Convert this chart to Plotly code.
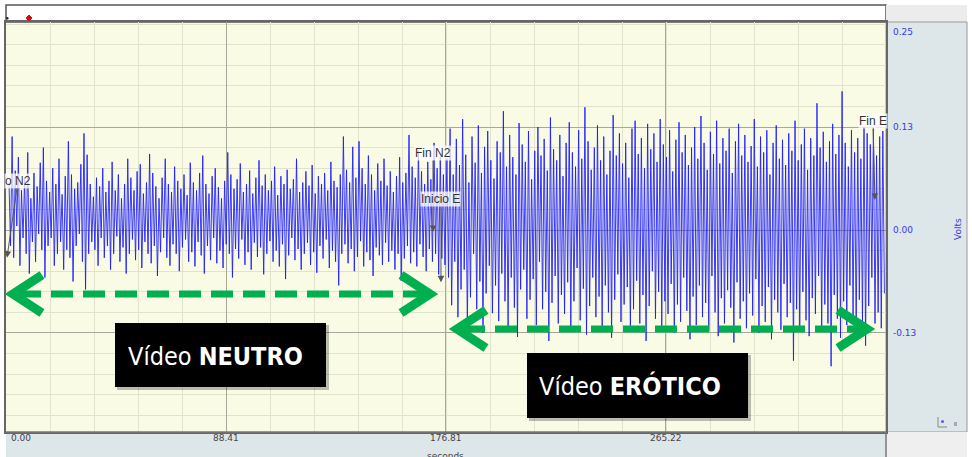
import numpy as np
import plotly.graph_objects as go

# ---------------- data (Volts) ----------------
neutral_peaks = [
    0.060, 0.118, 0.075, 0.092, 0.050, 0.065, 0.098, 0.040, 0.072, 0.055,
    0.085, 0.104, 0.062, 0.048, 0.078, 0.058, 0.090, 0.045, 0.068, 0.112,
    0.070, 0.052, 0.060, 0.083, 0.122, 0.095, 0.058, 0.042, 0.066, 0.055,
    0.078, 0.048, 0.062, 0.086, 0.050, 0.070, 0.040, 0.058, 0.090, 0.066,
    0.050, 0.074, 0.083, 0.046, 0.060, 0.096, 0.072, 0.055, 0.040, 0.066,
    0.090, 0.058, 0.048, 0.080, 0.062, 0.052, 0.070, 0.044, 0.085, 0.060,
    0.050, 0.072, 0.094, 0.058, 0.046, 0.068, 0.078, 0.054, 0.040, 0.062,
    0.098, 0.070, 0.052, 0.064, 0.084, 0.048, 0.058, 0.075, 0.046, 0.066,
    0.088, 0.056, 0.070, 0.050, 0.062, 0.080, 0.044, 0.068, 0.058, 0.076,
    0.052, 0.064, 0.090, 0.048, 0.060, 0.074, 0.056, 0.082, 0.046, 0.068,
    0.058, 0.072, 0.050, 0.086, 0.062, 0.054, 0.070, 0.118, 0.076, 0.060,
    0.105, 0.066, 0.112, 0.078, 0.058, 0.094, 0.070, 0.050, 0.084, 0.062,
    0.090, 0.056, 0.074, 0.048, 0.068, 0.092, 0.060, 0.072, 0.120, 0.080,
    0.066, 0.100, 0.074, 0.058, 0.086, 0.064, 0.110, 0.078, 0.092, 0.070,
]
neutral_troughs = [
    -0.020, -0.035, 0.005, -0.045, -0.010, -0.030, -0.055, -0.015, -0.040, -0.005,
    -0.025, -0.060, -0.020, -0.010, -0.045, -0.030, -0.015, -0.050, -0.025, -0.035,
    -0.065, -0.020, -0.005, -0.040, -0.075, -0.030, -0.015, -0.025, -0.045, -0.010,
    -0.035, -0.020, -0.050, -0.030, -0.008, -0.040, -0.022, -0.055, -0.030, -0.012,
    -0.038, -0.025, -0.048, -0.015, -0.030, -0.042, -0.020, -0.058, -0.028, -0.010,
    -0.035, -0.045, -0.018, -0.030, -0.052, -0.022, -0.012, -0.040, -0.028, -0.046,
    -0.015, -0.032, -0.055, -0.020, -0.038, -0.010, -0.042, -0.026, -0.048, -0.018,
    -0.030, -0.060, -0.024, -0.036, -0.012, -0.044, -0.028, -0.050, -0.016, -0.034,
    -0.022, -0.056, -0.030, -0.014, -0.040, -0.026, -0.046, -0.018, -0.062, -0.032,
    -0.010, -0.038, -0.024, -0.050, -0.030, -0.016, -0.044, -0.028, -0.054, -0.020,
    -0.036, -0.012, -0.048, -0.026, -0.040, -0.070, -0.030, -0.018, -0.042, -0.024,
    -0.052, -0.034, -0.014, -0.046, -0.028, -0.038, -0.058, -0.022, -0.032, -0.044,
    -0.016, -0.040, -0.026, -0.050, -0.030, -0.064, -0.036, -0.020, -0.042, -0.028,
    -0.046, -0.018, -0.034, -0.052, -0.024, -0.040, -0.030, -0.056, -0.036, -0.044,
]
erotic_peaks = [
    0.090, 0.128, 0.070, 0.115, 0.082, 0.140, 0.095, 0.060, 0.118, 0.085,
    0.132, 0.072, 0.105, 0.125, 0.088, 0.065, 0.112, 0.098, 0.150, 0.080,
    0.120, 0.092, 0.070, 0.135, 0.108, 0.086, 0.125, 0.064, 0.100, 0.130,
    0.094, 0.115, 0.075, 0.142, 0.102, 0.088, 0.120, 0.068, 0.110, 0.136,
    0.098, 0.080, 0.126, 0.090, 0.155, 0.112, 0.076, 0.104, 0.132, 0.088,
    0.118, 0.070, 0.100, 0.145, 0.094, 0.122, 0.084, 0.110, 0.066, 0.128,
    0.138, 0.096, 0.116, 0.078, 0.134, 0.102, 0.122, 0.086, 0.140, 0.108,
    0.092, 0.126, 0.074, 0.114, 0.136, 0.098, 0.120, 0.082, 0.104, 0.130,
    0.090, 0.144, 0.110, 0.076, 0.124, 0.096, 0.138, 0.084, 0.116, 0.100,
    0.128, 0.072, 0.112, 0.134, 0.094, 0.120, 0.086, 0.106, 0.140, 0.080,
    0.118, 0.098, 0.126, 0.070, 0.110, 0.132, 0.090, 0.114, 0.082, 0.122,
    0.100, 0.138, 0.088, 0.108, 0.128, 0.076, 0.116, 0.094, 0.160, 0.104,
    0.124, 0.086, 0.112, 0.134, 0.096, 0.120, 0.175, 0.110, 0.080, 0.126,
    0.098, 0.116, 0.090, 0.130, 0.122, 0.108, 0.128, 0.094, 0.118, 0.125,
]
erotic_troughs = [
    -0.060, -0.095, -0.040, -0.110, -0.075, -0.050, -0.120, -0.085, -0.030, -0.100,
    -0.065, -0.130, -0.080, -0.045, -0.105, -0.070, -0.115, -0.055, -0.090, -0.125,
    -0.060, -0.098, -0.135, -0.075, -0.050, -0.112, -0.088, -0.062, -0.120, -0.040,
    -0.100, -0.078, -0.140, -0.092, -0.058, -0.118, -0.082, -0.106, -0.066, -0.128,
    -0.090, -0.048, -0.114, -0.074, -0.132, -0.096, -0.060, -0.110, -0.084, -0.122,
    -0.070, -0.104, -0.136, -0.088, -0.056, -0.116, -0.094, -0.072, -0.126, -0.100,
    -0.064, -0.118, -0.082, -0.140, -0.096, -0.052, -0.112, -0.078, -0.124, -0.090,
    -0.106, -0.068, -0.130, -0.094, -0.116, -0.060, -0.102, -0.138, -0.084, -0.120,
    -0.070, -0.110, -0.092, -0.128, -0.058, -0.104, -0.134, -0.086, -0.118, -0.076,
    -0.098, -0.142, -0.066, -0.112, -0.090, -0.124, -0.080, -0.108, -0.062, -0.130,
    -0.096, -0.116, -0.072, -0.138, -0.088, -0.104, -0.126, -0.068, -0.110, -0.092,
    -0.165, -0.100, -0.122, -0.078, -0.114, -0.134, -0.086, -0.106, -0.058, -0.128,
    -0.094, -0.118, -0.172, -0.082, -0.112, -0.136, -0.090, -0.120, -0.070, -0.108,
    -0.130, -0.088, -0.116, -0.146, -0.096, -0.060, -0.118, -0.104, -0.124, -0.080,
]

neutral_span = [1.2, 176.4]      # seconds
erotic_span = [177.2, 353.0]     # seconds

x_tick_vals = [0.0, 88.41, 176.81, 265.22]
x_tick_text = ["0.00", "88.41", "176.81", "265.22"]
y_tick_vals = [0.25, 0.13, 0.00, -0.13]
y_tick_text = ["0.25", "0.13", "0.00", "-0.13"]

event_labels = ["o N2", "Fin N2", "Inicio E", "Fin E"]
event_times = [0.4, 171.6, 174.8, 349.2]
event_tips = [-0.035, -0.0025, -0.066, 0.038]

X_RANGE = [0, 353.64]
Y_RANGE = [-0.255, 0.2626]

# ---------------- geometry helpers (pixel -> paper) ----------------
W, H = 972, 457
PL, PR, PT, PB = 6, 886, 22, 432


def px(xp):
    return (xp - PL) / (PR - PL)


def py(yp):
    return (PB - yp) / (PB - PT)


def interleave(a, b):
    out = []
    for p, t in zip(a, b):
        out += [p, t]
    return out


y_neutral = interleave(neutral_peaks, neutral_troughs)
y_erotic = interleave(erotic_peaks, erotic_troughs)
t_neutral = np.linspace(neutral_span[0], neutral_span[1], len(y_neutral))
t_erotic = np.linspace(erotic_span[0], erotic_span[1], len(y_erotic))

t_all = np.concatenate([t_neutral, t_erotic])
y_all = y_neutral + y_erotic

fig = go.Figure()
fig.add_trace(go.Scatter(
    x=t_all, y=y_all, mode="lines",
    line=dict(color="rgba(25,25,255,0.85)", width=1),
    hoverinfo="skip", showlegend=False,
))
# invisible trace to carry the right-hand label axis
fig.add_trace(go.Scatter(x=[0], y=[0], yaxis="y2", mode="markers",
                         marker=dict(opacity=0), showlegend=False, hoverinfo="skip"))

shapes = []
GREY_PANEL = "#dde6e9"
# top white strip
shapes.append(dict(type="rect", xref="paper", yref="paper", x0=px(6), x1=px(886), y0=py(22), y1=py(5),
                   fillcolor="white", line=dict(color="#555", width=1.5), layer="below"))
shapes.append(dict(type="rect", xref="paper", yref="paper", x0=px(886), x1=px(967), y0=py(22), y1=py(5),
                   fillcolor="#ececec", line=dict(width=0), layer="below"))
# right panel
shapes.append(dict(type="rect", xref="paper", yref="paper", x0=px(886), x1=px(967), y0=py(432), y1=py(22),
                   fillcolor=GREY_PANEL, line=dict(color="#999", width=1), layer="below"))
# bottom panel
shapes.append(dict(type="rect", xref="paper", yref="paper", x0=px(6), x1=px(886), y0=py(459), y1=py(432),
                   fillcolor=GREY_PANEL, line=dict(width=0), layer="below"))
shapes.append(dict(type="rect", xref="paper", yref="paper", x0=px(886), x1=px(967), y0=py(459), y1=py(432),
                   fillcolor="#efefef", line=dict(width=0), layer="below"))
shapes.append(dict(type="line", xref="paper", yref="paper", x0=px(6), x1=px(886), y0=py(432), y1=py(432),
                   line=dict(color="#777", width=1.5)))
shapes.append(dict(type="line", xref="paper", yref="paper", x0=px(886), x1=px(886), y0=py(457), y1=py(432),
                   line=dict(color="#777", width=1.5)))
# little markers in the top strip
shapes.append(dict(type="path", xref="paper", yref="paper",
                   path=f"M {px(29)},{py(15)} L {px(32)},{py(18)} L {px(29)},{py(21)} L {px(26)},{py(18)} Z",
                   fillcolor="#d01010", line=dict(color="#d01010", width=1)))
shapes.append(dict(type="circle", xref="paper", yref="paper", x0=px(6), x1=px(8.5), y0=py(19.5), y1=py(17),
                   fillcolor="#222", line=dict(width=0)))
# tiny glyphs at the bottom-right of the right panel
shapes.append(dict(type="path", xref="paper", yref="paper",
                   path=f"M {px(938)},{py(417)} L {px(938)},{py(427)} L {px(947)},{py(427)}",
                   line=dict(color="#888", width=1)))
shapes.append(dict(type="circle", xref="paper", yref="paper", x0=px(941), x1=px(944), y0=py(423), y1=py(420),
                   fillcolor="#5a5ae0", line=dict(width=0)))
shapes.append(dict(type="rect", xref="paper", yref="paper", x0=px(954), x1=px(957), y0=py(426), y1=py(422),
                   fillcolor="#aaa", line=dict(width=0)))

GREEN = "#00b050"


def green_arrow(x_left, x_right, yc):
    out = []
    out.append(dict(type="line", xref="paper", yref="paper",
                    x0=px(x_left + 6), x1=px(x_right - 6), y0=py(yc), y1=py(yc),
                    line=dict(color=GREEN, width=7, dash="22px,10px")))
    for tip, arm in [(x_left, x_left + 29), (x_right, x_right - 29)]:
        out.append(dict(type="path", xref="paper", yref="paper",
                        path=f"M {px(arm)},{py(yc - 19)} L {px(tip)},{py(yc)} L {px(arm)},{py(yc + 19)}",
                        line=dict(color=GREEN, width=9)))
    return out


shapes += green_arrow(13, 430, 294)
shapes += green_arrow(457, 867, 329)

# black caption boxes with soft shadow
for (bx0, by0, bx1, by1) in [(115, 323, 326, 387), (527, 353, 748, 418)]:
    shapes.append(dict(type="rect", xref="paper", yref="paper",
                       x0=px(bx0 + 2), x1=px(bx1 + 3), y0=py(by1 + 3), y1=py(by0 + 2),
                       fillcolor="rgba(0,0,0,0.25)", line=dict(width=0)))
    shapes.append(dict(type="rect", xref="paper", yref="paper",
                       x0=px(bx0), x1=px(bx1), y0=py(by1), y1=py(by0),
                       fillcolor="black", line=dict(width=0)))

annotations = []
# captions
CAP_FONT = "DejaVu Sans Condensed, Liberation Sans Narrow, Arial Narrow, sans-serif"
annotations.append(dict(xref="paper", yref="paper", x=px(126), y=py(356), xanchor="left", yanchor="middle",
                        text="Vídeo <b>NEUTRO</b>", showarrow=False,
                        font=dict(family=CAP_FONT, size=25, color="white")))
annotations.append(dict(xref="paper", yref="paper", x=px(537), y=py(386), xanchor="left", yanchor="middle",
                        text="Vídeo <b>ERÓTICO</b>", showarrow=False,
                        font=dict(family=CAP_FONT, size=25, color="white")))

# event markers
label_offsets = {"o N2": (11, -77), "Fin N2": (0, -79), "Inicio E": (0, -83), "Fin E": (-2, -79)}
for lab, tx, tip in zip(event_labels, event_times, event_tips):
    ax, ay = label_offsets[lab]
    annotations.append(dict(x=tx, y=tip, xref="x", yref="y", text=lab, showarrow=True,
                            ax=ax, ay=ay, arrowhead=2, arrowsize=1.3, arrowwidth=1, arrowcolor="#555",
                            font=dict(family="Liberation Sans, Arial, sans-serif", size=12, color="#333"),
                            bgcolor="rgba(255,255,255,0.75)", borderpad=0))

# x tick labels (bottom strip)
for i, (v, t) in enumerate(zip(x_tick_vals, x_tick_text)):
    annotations.append(dict(x=v, y=py(438), xref="x", yref="paper", text=t, showarrow=False,
                            xanchor="left" if i == 0 else "center", xshift=3 if i == 0 else 0,
                            yanchor="middle",
                            font=dict(family="DejaVu Sans, Verdana, sans-serif", size=9, color="#444")))
annotations.append(dict(x=176.81, y=py(449), xref="x", yref="paper", text="seconds", showarrow=False,
                        xanchor="center", yanchor="top",
                        font=dict(family="DejaVu Sans, Verdana, sans-serif", size=9, color="#444")))
# y axis title
annotations.append(dict(xref="paper", yref="paper", x=px(958), y=py(229), text="Volts", textangle=-90,
                        showarrow=False, xanchor="center", yanchor="middle",
                        font=dict(family="DejaVu Sans, Verdana, sans-serif", size=9, color="#3a3ae0")))

fig.update_layout(
    width=W, height=H,
    margin=dict(l=PL, r=W - PR, t=PT, b=H - PB, pad=0),
    paper_bgcolor="white",
    plot_bgcolor="#f9fbe4",
    showlegend=False,
    shapes=shapes,
    annotations=annotations,
    xaxis=dict(range=X_RANGE, tickmode="array", tickvals=x_tick_vals + [353.64], showticklabels=False,
               ticks="", showgrid=True, gridcolor="#a6a89a", gridwidth=1, zeroline=False,
               showline=True, linecolor="#666", linewidth=1.5, mirror=True,
               minor=dict(dtick=17.682, tick0=0, showgrid=True, gridcolor="#e1e3cc", gridwidth=1, ticks="")),
    yaxis=dict(range=Y_RANGE, tickmode="array", tickvals=[-0.13, 0.0, 0.13], showticklabels=False,
               ticks="", showgrid=True, gridcolor="#a6a89a", gridwidth=1, zeroline=False,
               showline=True, linecolor="#666", linewidth=1.5, mirror=True,
               minor=dict(dtick=0.026, tick0=0, showgrid=True, gridcolor="#e1e3cc", gridwidth=1, ticks="")),
    yaxis2=dict(range=Y_RANGE, overlaying="y", side="right", tickmode="array",
                tickvals=y_tick_vals, ticktext=y_tick_text, showgrid=False, zeroline=False,
                ticks="", ticklabelstandoff=6, showline=False,
                tickfont=dict(family="DejaVu Sans, Verdana, sans-serif", size=9, color="#3a3ae0")),
)

fig.write_html("out.html", config={"displayModeBar": False},
               post_script="document.body.style.margin='0';document.body.style.overflow='hidden';")
